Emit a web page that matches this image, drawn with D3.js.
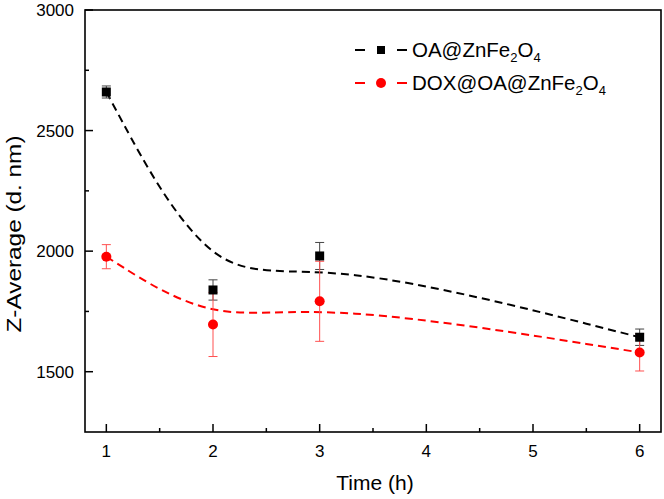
<!DOCTYPE html>
<html><head><meta charset="utf-8">
<script src="https://cdn.jsdelivr.net/npm/d3@7"></script>
<style>body{margin:0;background:#fff}svg{display:block}text{font-family:"Liberation Sans",Arial,sans-serif;fill:#000}</style>
</head><body>
<script>
const times = [1, 2, 3, 6];
const oaValues = [2660, 1839, 1980, 1643];
const oaErrors = [25, 42, 56, 34];
const doxValues = [1977, 1696, 1792, 1580];
const doxErrors = [50, 133, 166, 77];
const xTicks = [1, 2, 3, 4, 5, 6];
const yTicks = [1500, 2000, 2500, 3000];
const seriesNames = ["OA@ZnFe", "DOX@OA@ZnFe"];

const W = 664, H = 499;
const L = 85, R = 661, T = 10, B = 432;
const svg = d3.select("body").append("svg").attr("width", W).attr("height", H);
const x = d3.scaleLinear().domain([0.8, 6.2]).range([L, R]);
const y = d3.scaleLinear().domain([1250, 3000]).range([B, T]);

// frame
svg.append("rect").attr("x", L).attr("y", T).attr("width", R - L).attr("height", B - T)
  .attr("fill", "none").attr("stroke", "#000").attr("stroke-width", 1.6);

// x axis ticks
const gx = svg.append("g");
xTicks.forEach(v => {
  gx.append("line").attr("x1", x(v)).attr("x2", x(v)).attr("y1", B).attr("y2", B - 8).attr("stroke", "#000").attr("stroke-width", 1.5);
  gx.append("text").attr("x", x(v)).attr("y", B + 25).attr("text-anchor", "middle").attr("font-size", 17).text(v);
});
d3.range(1.5, 6, 1).forEach(v => {
  gx.append("line").attr("x1", x(v)).attr("x2", x(v)).attr("y1", B).attr("y2", B - 4).attr("stroke", "#000").attr("stroke-width", 1.5);
});
// y axis ticks
const gy = svg.append("g");
yTicks.forEach(v => {
  gy.append("line").attr("x1", L).attr("x2", L + 8).attr("y1", y(v)).attr("y2", y(v)).attr("stroke", "#000").attr("stroke-width", 1.5);
  gy.append("text").attr("x", L - 11).attr("y", y(v) + 6).attr("text-anchor", "end").attr("font-size", 17).text(v);
});
d3.range(1750, 3000, 500).forEach(v => {
  gy.append("line").attr("x1", L).attr("x2", L + 4).attr("y1", y(v)).attr("y2", y(v)).attr("stroke", "#000").attr("stroke-width", 1.5);
});

// axis titles
svg.append("text").attr("x", 375).attr("y", 490).attr("text-anchor", "middle")
  .attr("font-size", 21).text("Time (h)");
svg.append("text").attr("transform", `translate(21,234) rotate(-90)`).attr("text-anchor", "middle")
  .attr("font-size", 20).attr("textLength", 197).attr("lengthAdjust", "spacingAndGlyphs").text("Z-Average (d. nm)");

// curves
const line = d3.line().x(d => x(d[0])).y(d => y(d[1])).curve(d3.curveBasis);
const series = [
  {vals: oaValues, errs: oaErrors, color: "#000", err: "#444"},
  {vals: doxValues, errs: doxErrors, color: "#ff0000", err: "#ff5050"}
];
series.forEach(s => {
  svg.append("path").attr("d", line(times.map((t, i) => [t, s.vals[i]])))
    .attr("fill", "none").attr("stroke", s.color).attr("stroke-width", 2).attr("stroke-dasharray", "8,5");
});
// error bars
series.forEach(s => {
  times.forEach((t, i) => {
    const cx = x(t), y1 = y(s.vals[i] + s.errs[i]), y2 = y(s.vals[i] - s.errs[i]);
    svg.append("line").attr("x1", cx).attr("x2", cx).attr("y1", y1).attr("y2", y2).attr("stroke", s.err).attr("stroke-width", 1);
    [y1, y2].forEach(yy => svg.append("line").attr("x1", cx - 4.5).attr("x2", cx + 4.5).attr("y1", yy).attr("y2", yy).attr("stroke", s.err).attr("stroke-width", 1));
  });
});
// markers
times.forEach((t, i) => {
  svg.append("rect").attr("x", x(t) - 4.5).attr("y", y(oaValues[i]) - 4.5).attr("width", 9).attr("height", 9).attr("fill", "#000");
  svg.append("circle").attr("cx", x(t)).attr("cy", y(doxValues[i])).attr("r", 5).attr("fill", "#ff0000");
});

// legend
const leg = [{y: 50, color: "#000", shape: "sq", name: seriesNames[0]}, {y: 83, color: "#ff0000", shape: "ci", name: seriesNames[1]}];
leg.forEach(l => {
  svg.append("line").attr("x1", 355).attr("x2", 365).attr("y1", l.y).attr("y2", l.y).attr("stroke", l.color).attr("stroke-width", 2);
  svg.append("line").attr("x1", 397).attr("x2", 407).attr("y1", l.y).attr("y2", l.y).attr("stroke", l.color).attr("stroke-width", 2);
  if (l.shape === "sq") svg.append("rect").attr("x", 377).attr("y", l.y - 4).attr("width", 8).attr("height", 8).attr("fill", l.color);
  else svg.append("circle").attr("cx", 381).attr("cy", l.y).attr("r", 5).attr("fill", l.color);
  const tx = svg.append("text").attr("x", 412).attr("y", l.y + 7).attr("font-size", 20.5);
  tx.append("tspan").text(l.name);
  tx.append("tspan").attr("font-size", 13).attr("dy", 5).text("2");
  tx.append("tspan").attr("dy", -5).text("O");
  tx.append("tspan").attr("font-size", 13).attr("dy", 5).text("4");
});
</script>
</body></html>
